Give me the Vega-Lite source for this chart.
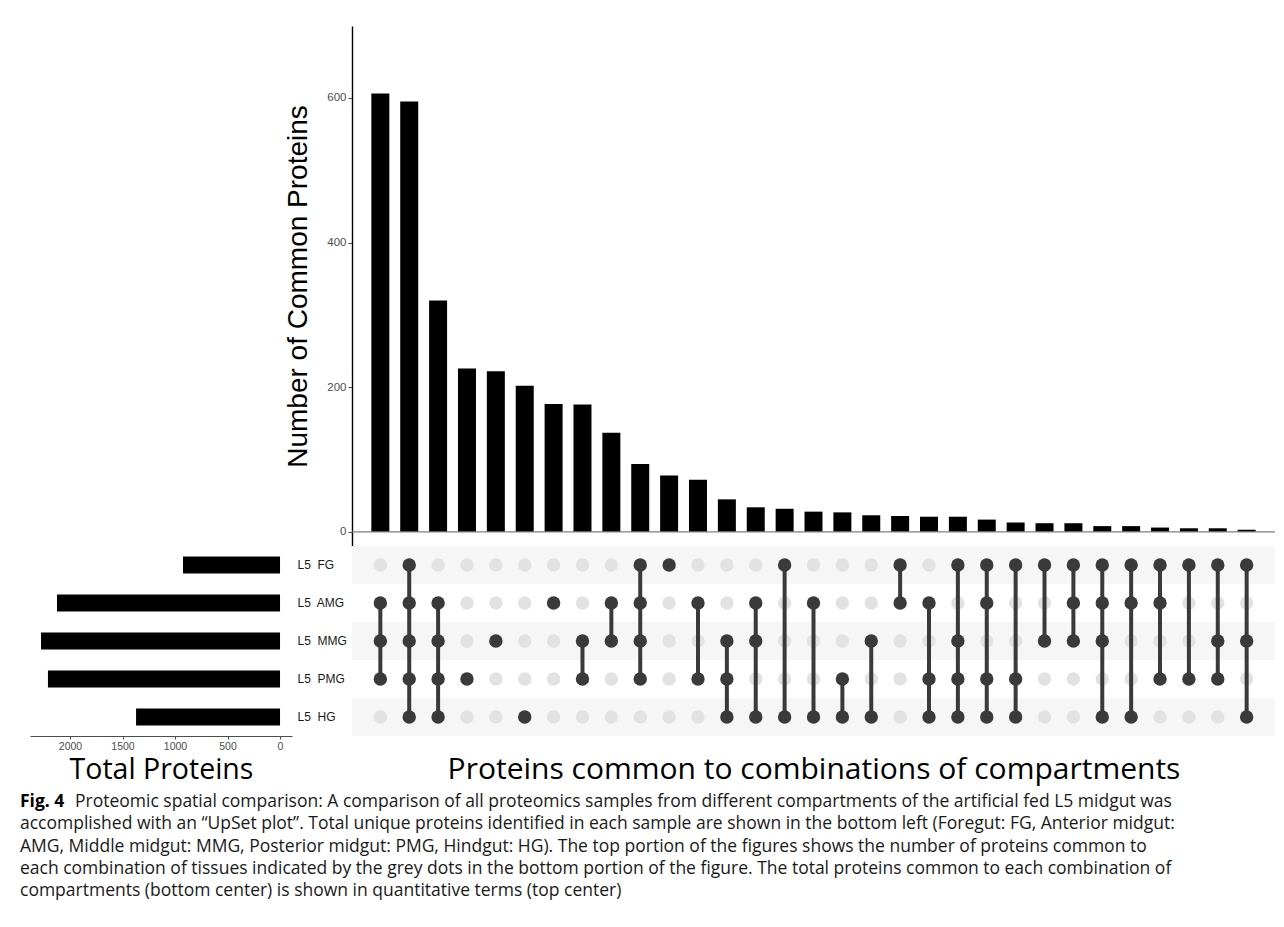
{
  "$schema": "https://vega.github.io/schema/vega-lite/v6.json",
  "padding": {"left": 20, "top": 26, "right": 0, "bottom": 0},
  "background": "white",
  "config": {"view": {"stroke": null}, "font": "Liberation Sans"},
  "datasets": {
    "combos": [
      {"id": 1, "count": 606, "FG": 0, "AMG": 1, "MMG": 1, "PMG": 1, "HG": 0},
      {"id": 2, "count": 595, "FG": 1, "AMG": 1, "MMG": 1, "PMG": 1, "HG": 1},
      {"id": 3, "count": 320, "FG": 0, "AMG": 1, "MMG": 1, "PMG": 1, "HG": 1},
      {"id": 4, "count": 226, "FG": 0, "AMG": 0, "MMG": 0, "PMG": 1, "HG": 0},
      {"id": 5, "count": 222, "FG": 0, "AMG": 0, "MMG": 1, "PMG": 0, "HG": 0},
      {"id": 6, "count": 202, "FG": 0, "AMG": 0, "MMG": 0, "PMG": 0, "HG": 1},
      {"id": 7, "count": 177, "FG": 0, "AMG": 1, "MMG": 0, "PMG": 0, "HG": 0},
      {"id": 8, "count": 176, "FG": 0, "AMG": 0, "MMG": 1, "PMG": 1, "HG": 0},
      {"id": 9, "count": 137, "FG": 0, "AMG": 1, "MMG": 1, "PMG": 0, "HG": 0},
      {"id": 10, "count": 94, "FG": 1, "AMG": 1, "MMG": 1, "PMG": 1, "HG": 0},
      {"id": 11, "count": 78, "FG": 1, "AMG": 0, "MMG": 0, "PMG": 0, "HG": 0},
      {"id": 12, "count": 72, "FG": 0, "AMG": 1, "MMG": 0, "PMG": 1, "HG": 0},
      {"id": 13, "count": 45, "FG": 0, "AMG": 0, "MMG": 1, "PMG": 1, "HG": 1},
      {"id": 14, "count": 34, "FG": 0, "AMG": 1, "MMG": 1, "PMG": 0, "HG": 1},
      {"id": 15, "count": 32, "FG": 1, "AMG": 0, "MMG": 0, "PMG": 0, "HG": 1},
      {"id": 16, "count": 28, "FG": 0, "AMG": 1, "MMG": 0, "PMG": 0, "HG": 1},
      {"id": 17, "count": 27, "FG": 0, "AMG": 0, "MMG": 0, "PMG": 1, "HG": 1},
      {"id": 18, "count": 23, "FG": 0, "AMG": 0, "MMG": 1, "PMG": 0, "HG": 1},
      {"id": 19, "count": 22, "FG": 1, "AMG": 1, "MMG": 0, "PMG": 0, "HG": 0},
      {"id": 20, "count": 21, "FG": 0, "AMG": 1, "MMG": 0, "PMG": 1, "HG": 1},
      {"id": 21, "count": 21, "FG": 1, "AMG": 0, "MMG": 1, "PMG": 1, "HG": 1},
      {"id": 22, "count": 17, "FG": 1, "AMG": 1, "MMG": 0, "PMG": 1, "HG": 1},
      {"id": 23, "count": 13, "FG": 1, "AMG": 0, "MMG": 0, "PMG": 1, "HG": 1},
      {"id": 24, "count": 12, "FG": 1, "AMG": 0, "MMG": 1, "PMG": 0, "HG": 0},
      {"id": 25, "count": 12, "FG": 1, "AMG": 1, "MMG": 1, "PMG": 0, "HG": 0},
      {"id": 26, "count": 8, "FG": 1, "AMG": 1, "MMG": 1, "PMG": 0, "HG": 1},
      {"id": 27, "count": 8, "FG": 1, "AMG": 1, "MMG": 0, "PMG": 0, "HG": 1},
      {"id": 28, "count": 6, "FG": 1, "AMG": 1, "MMG": 0, "PMG": 1, "HG": 0},
      {"id": 29, "count": 5, "FG": 1, "AMG": 0, "MMG": 0, "PMG": 1, "HG": 0},
      {"id": 30, "count": 5, "FG": 1, "AMG": 0, "MMG": 1, "PMG": 1, "HG": 0},
      {"id": 31, "count": 3, "FG": 1, "AMG": 0, "MMG": 1, "PMG": 0, "HG": 1}
    ],
    "sets": [
      {"set": "FG", "total": 924},
      {"set": "AMG", "total": 2124},
      {"set": "MMG", "total": 2276},
      {"set": "PMG", "total": 2210},
      {"set": "HG", "total": 1371}
    ],
    "caption": [
      {"line": 1, "text": "Proteomic spatial comparison: A comparison of all proteomics samples from different compartments of the artificial fed L5 midgut was"},
      {"line": 2, "text": "accomplished with an “UpSet plot”. Total unique proteins identified in each sample are shown in the bottom left (Foregut: FG, Anterior midgut:"},
      {"line": 3, "text": "AMG, Middle midgut: MMG, Posterior midgut: PMG, Hindgut: HG). The top portion of the figures shows the number of proteins common to"},
      {"line": 4, "text": "each combination of tissues indicated by the grey dots in the bottom portion of the figure. The total proteins common to each combination of"},
      {"line": 5, "text": "compartments (bottom center) is shown in quantitative terms (top center)"}
    ]
  },
  "spacing": 7,
  "vconcat": [
    {
      "columns": 2,
      "bounds": "flush",
      "spacing": {"row": 0, "column": 60},
      "resolve": {"scale": {"x": "independent", "y": "independent", "color": "independent"}},
      "concat": [
        {"width": 262, "height": 520, "data": {"values": []}, "mark": "point", "encoding": {}},
        {
          "width": 923,
          "height": 520,
          "data": {"name": "combos"},
          "layer": [
            {
              "mark": {"type": "bar", "color": "black"},
              "encoding": {
                "x": {"field": "id", "type": "ordinal", "axis": null, "scale": {"type": "band", "paddingInner": 0.377, "paddingOuter": 0.67}},
                "y": {
                  "field": "count", "type": "quantitative",
                  "scale": {"domain": [-19.5, 699.5], "nice": false, "zero": false},
                  "axis": {
                    "values": [0, 200, 400, 600], "grid": false,
                    "title": "Number of Common Proteins", "titleFontSize": 28, "titleFontWeight": "normal", "titleColor": "black", "titlePadding": 14,
                    "labelFontSize": 11.5, "labelColor": "#4d4d4d", "labelPadding": 2,
                    "tickColor": "#4d4d4d", "tickSize": 4,
                    "domainColor": "black", "domainWidth": 1.4
                  }
                },
                "y2": {"datum": 0}
              }
            },
            {
              "data": {"values": [{}]},
              "mark": {"type": "rule", "color": "#808080", "strokeWidth": 1.4},
              "encoding": {"y": {"datum": 0}}
            }
          ]
        },
        {
          "width": 262,
          "height": 190,
          "data": {"name": "sets"},
          "mark": {"type": "bar", "color": "black"},
          "encoding": {
            "y": {
              "field": "set", "type": "nominal",
              "scale": {"domain": ["FG", "AMG", "MMG", "PMG", "HG"], "paddingInner": 0.55, "paddingOuter": 0.275},
              "axis": {"orient": "right", "title": null, "domain": false, "ticks": false, "tickSize": 0, "labelPadding": 5, "labelFontSize": 12, "labelColor": "#1a1a1a", "labelExpr": "'L5\u00a0 ' + datum.label"}
            },
            "x": {
              "field": "total", "type": "quantitative",
              "scale": {"domain": [-114, 2381], "reverse": true, "nice": false, "zero": false},
              "axis": {
                "values": [0, 500, 1000, 1500, 2000], "format": "d", "grid": false,
                "title": "Total Proteins", "titleFont": "Open Sans", "titleFontSize": 28.5, "titleFontWeight": "normal", "titleColor": "black", "titlePadding": 4,
                "labelFontSize": 10.5, "labelColor": "#4d4d4d", "tickColor": "#4d4d4d", "tickSize": 3, "domainColor": "#4d4d4d"
              }
            },
            "x2": {"datum": 0}
          }
        },
        {
          "width": 923,
          "height": 190,
          "data": {"name": "combos"},
          "transform": [{"fold": ["FG", "AMG", "MMG", "PMG", "HG"], "as": ["set", "in"]}],
          "layer": [
            {
              "transform": [{"filter": "datum.id == 1"}],
              "mark": {"type": "rect"},
              "encoding": {
                "y": {"field": "set", "type": "nominal", "scale": {"domain": ["FG", "AMG", "MMG", "PMG", "HG"], "paddingInner": 0, "paddingOuter": 0}, "axis": null},
                "color": {"field": "set", "type": "nominal", "scale": {"domain": ["FG", "AMG", "MMG", "PMG", "HG"], "range": ["#f6f6f6", "#ffffff", "#f6f6f6", "#ffffff", "#f6f6f6"]}, "legend": null}
              }
            },
            {
              "transform": [{"filter": "datum.in == 0"}],
              "mark": {"type": "circle", "size": 180, "color": "#e2e2e2", "opacity": 1},
              "encoding": {
                "x": {"field": "id", "type": "ordinal", "scale": {"type": "band", "paddingInner": 0.377, "paddingOuter": 0.67}, "axis": {"title": "Proteins common to combinations of compartments", "labels": false, "ticks": false, "domain": false, "titleFont": "Open Sans", "titleFontSize": 30, "titleFontWeight": "normal", "titleColor": "black", "titlePadding": 18}},
                "y": {"field": "set", "type": "nominal", "axis": null}
              }
            },
            {
              "transform": [{"filter": "datum.in == 1"}],
              "mark": {"type": "line", "color": "#3a3a3a", "strokeWidth": 4},
              "encoding": {
                "x": {"field": "id", "type": "ordinal", "scale": {"type": "band", "paddingInner": 0.377, "paddingOuter": 0.67}, "axis": {"title": "Proteins common to combinations of compartments", "labels": false, "ticks": false, "domain": false, "titleFont": "Open Sans", "titleFontSize": 30, "titleFontWeight": "normal", "titleColor": "black", "titlePadding": 18}},
                "y": {"field": "set", "type": "nominal", "axis": null},
                "detail": {"field": "id", "type": "ordinal"}
              }
            },
            {
              "transform": [{"filter": "datum.in == 1"}],
              "mark": {"type": "circle", "size": 180, "color": "#3a3a3a", "opacity": 1},
              "encoding": {
                "x": {"field": "id", "type": "ordinal", "scale": {"type": "band", "paddingInner": 0.377, "paddingOuter": 0.67}, "axis": {"title": "Proteins common to combinations of compartments", "labels": false, "ticks": false, "domain": false, "titleFont": "Open Sans", "titleFontSize": 30, "titleFontWeight": "normal", "titleColor": "black", "titlePadding": 18}},
                "y": {"field": "set", "type": "nominal", "axis": null}
              }
            }
          ]
        }
      ]
    },
    {
      "width": 1240,
      "height": 111.5,
      "data": {"name": "caption"},
      "encoding": {
        "y": {"field": "line", "type": "ordinal", "axis": null, "scale": {"paddingInner": 0, "paddingOuter": 0}},
        "x": {"datum": 0, "type": "quantitative", "scale": {"domain": [0, 1]}, "axis": null}
      },
      "layer": [
        {
          "transform": [{"filter": "datum.line == 1"}],
          "mark": {"type": "text", "align": "left", "dx": -10, "font": "Open Sans", "fontSize": 17.5, "fontWeight": "bold", "color": "black"},
          "encoding": {"text": {"value": "Fig. 4"}}
        },
        {
          "transform": [{"filter": "datum.line == 1"}],
          "mark": {"type": "text", "align": "left", "dx": 45, "font": "Open Sans", "fontSize": 17.5, "color": "#1a1a1a"},
          "encoding": {"text": {"field": "text"}}
        },
        {
          "transform": [{"filter": "datum.line > 1"}],
          "mark": {"type": "text", "align": "left", "dx": -10, "font": "Open Sans", "fontSize": 17.5, "color": "#1a1a1a"},
          "encoding": {"text": {"field": "text"}}
        }
      ]
    }
  ]
}
